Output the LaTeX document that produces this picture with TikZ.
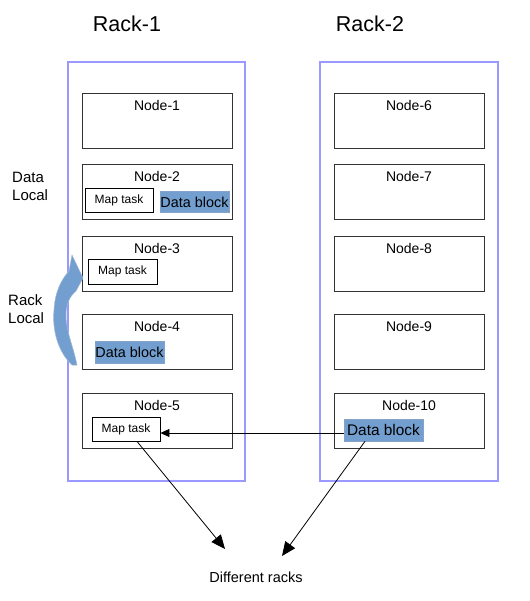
\documentclass[tikz,border=0pt]{standalone}
\usepackage{fontspec}
\setmainfont{Liberation Sans}
\usetikzlibrary{arrows.meta,calc}
\definecolor{rackc}{HTML}{9999FF}
\definecolor{blk}{HTML}{729FCF}
\definecolor{blkb}{HTML}{3465A4}
\definecolor{srvb}{HTML}{333333}
\begin{document}
\begin{tikzpicture}[x=1pt,y=-1pt,
  rack/.style={draw=rackc,line width=1.1pt},
  srv/.style={draw=srvb,line width=0.9pt,minimum width=150pt,minimum height=55pt,inner sep=0pt},
  srvlbl/.style={font=\fontsize{14}{16}\selectfont,inner sep=0pt},
  racklbl/.style={font=\fontsize{21.5}{24}\selectfont,inner sep=0pt},
  maptask/.style={draw=black,line width=0.8pt,fill=white,inner sep=0pt,minimum width=68pt,minimum height=24pt,font=\fontsize{12}{13}\selectfont},
  datablk/.style={draw=blkb!60,line width=0.6pt,fill=blk,inner sep=0pt,minimum width=69pt,minimum height=21pt,font=\fontsize{14.4}{16}\selectfont},
  side/.style={font=\fontsize{15}{18}\selectfont,align=left,anchor=west,inner sep=0pt},
  conn/.style={draw=black,line width=0.8pt}
]
\useasboundingbox (0,0) rectangle (529,601);

% rack titles
\node[racklbl] (r1t) at (127,24) {Rack-1};
\node[racklbl] (r2t) at (370,24) {Rack-2};

% rack frames
\draw[rack] (68,62) rectangle (245,481);
\draw[rack] (320,62) rectangle (498,481);

% servers rack 1
\node[srv] (n1) at (157,120.5) {};
\node[srv] (n2) at (157,191.5) {};
\node[srv] (n3) at (157,263.5) {};
\node[srv] (n4) at (157,341.5) {};
\node[srv] (n5) at (157,420.5) {};
% servers rack 2
\node[srv] (n6) at (409,120.5) {};
\node[srv] (n7) at (409,191.5) {};
\node[srv] (n8) at (409,263.5) {};
\node[srv] (n9) at (409,341.5) {};
\node[srv] (n10) at (409,420.5) {};

\foreach \n/\t in {n1/Node-1,n2/Node-2,n3/Node-3,n4/Node-4,n5/Node-5,n6/Node-6,n7/Node-7,n8/Node-8,n9/Node-9,n10/Node-10}
  \node[srvlbl] (\n l) at ($(\n.north)+(0,12.5)$) {\t};

% inner boxes
\node[maptask] (mt2) at (119,200) {Map task};
\node[datablk] (db2) at (194.5,202) {Data block};
\node[maptask,minimum width=69pt,minimum height=25pt] (mt3) at (122.5,271.5) {Map task};
\node[datablk,minimum height=22pt] (db4) at (129.5,352) {Data block};
\node[maptask] (mt5) at (126,429) {Map task};
\node[datablk,minimum width=79pt,minimum height=22pt,font=\fontsize{15.4}{17}\selectfont] (db10) at (383.5,430) {Data block};

% side labels
\node[side] (dl) at (12,186) {Data\\Local};
\node[side] (rl) at (8,309) {Rack\\Local};

% curved block arrow
\path[fill=blk,draw=blkb!45,line width=0.5pt]
  (72,365) .. controls (58,352) and (52,330) .. (54,310)
  .. controls (55,292) and (61,280) .. (69,271)
  -- (72,255) -- (83,278) -- (76,291)
  .. controls (69,297) and (66,305) .. (66,315)
  .. controls (66,332) and (73,345) .. (77,365) -- cycle;

% connectors
\coordinate (dr1) at (225,549);
\coordinate (dr2) at (282,556);
\draw[conn,-{Triangle[length=9pt,width=8pt]}] ([yshift=-3pt]db10.west) -- ([yshift=-3pt]db10.west -| mt5.east);
\draw[conn,-{Triangle[length=14pt,width=12pt]}] ([xshift=11pt]mt5.south) -- (dr1);
\draw[conn,-{Triangle[length=14pt,width=12pt]}] ([xshift=-18.5pt]db10.south) -- (dr2);

\node[font=\fontsize{14.5}{17}\selectfont,inner sep=0pt] (diff) at (256,577) {Different racks};
\end{tikzpicture}
\end{document}
